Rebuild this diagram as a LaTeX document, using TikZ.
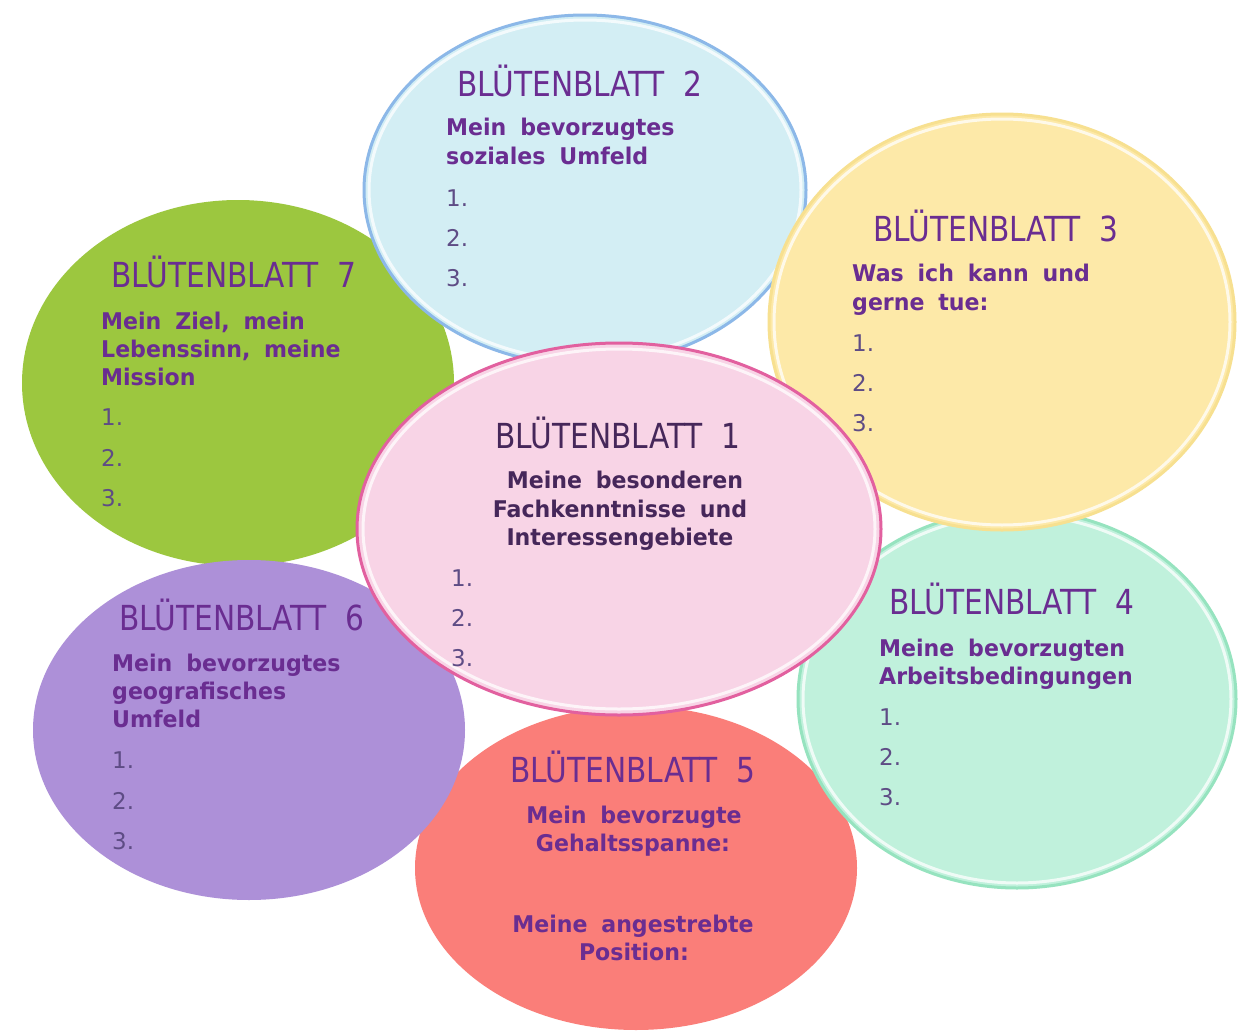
\documentclass[tikz,border=0pt]{standalone}
\usepackage{fontspec}
\setmainfont{DejaVu Sans}
\newfontfamily\titlefont[FakeStretch=0.86,WordSpace=2]{DejaVu Sans}
\newfontfamily\subfont[FakeStretch=0.96,WordSpace=1.8]{DejaVu Sans}
\definecolor{blueF}{HTML}{D3EEF4}
\definecolor{blueD}{HTML}{8CB8E8}
\definecolor{yellowF}{HTML}{FDE9A8}
\definecolor{yellowD}{HTML}{F7E090}
\definecolor{greenF}{HTML}{9CC73F}
\definecolor{pinkF}{HTML}{F8D4E6}
\definecolor{pinkD}{HTML}{E2609F}
\definecolor{mintF}{HTML}{C0F1DC}
\definecolor{mintD}{HTML}{96E3BF}
\definecolor{purpleF}{HTML}{AD90D8}
\definecolor{redF}{HTML}{FA7E79}
\definecolor{titleC}{HTML}{6A2D91}
\definecolor{darkC}{HTML}{46275A}
\definecolor{numC}{HTML}{5E4C85}
\tikzset{
  ttl/.style={inner sep=0pt, text=titleC, font=\titlefont\fontsize{34.5}{38}\selectfont},
  sub/.style={inner sep=0pt, text=titleC, font=\subfont\bfseries\fontsize{23}{26}\selectfont},
  num/.style={inner sep=0pt, text=numC, font=\fontsize{23}{26}\selectfont},
  hilite/.style={draw=white, draw opacity=0.75, line width=3pt, fill=none},
}
\begin{document}
\begin{tikzpicture}[x=1pt,y=-1pt]
\useasboundingbox (0,0) rectangle (1240,1036);
\fill[white] (0,0) rectangle (1240,1036);

% Petal 7 (green)
\fill[greenF] (238,383) ellipse [x radius=216pt, y radius=183pt];
\node[ttl, anchor=base west] (t7) at (111,287) {BLÜTENBLATT 7};
\node[sub, anchor=base west] (s7a) at (101,329) {Mein Ziel, mein};
\node[sub, anchor=base west] (s7b) at (101,357) {Lebenssinn, meine};
\node[sub, anchor=base west] (s7c) at (101,385) {Mission};
\node[num, anchor=base west] (n7a) at (101,425) {1.};
\node[num, anchor=base west] (n7b) at (101,466) {2.};
\node[num, anchor=base west] (n7c) at (101,506) {3.};

% Petal 5 (red)
\fill[redF] (636,868) ellipse [x radius=221pt, y radius=162pt];
\node[ttl, anchor=base] (t5) at (633,782) {BLÜTENBLATT 5};
\node[sub, anchor=base] (s5a) at (634,823) {Mein bevorzugte};
\node[sub, anchor=base] (s5b) at (633,851) {Gehaltsspanne:};
\node[sub, anchor=base] (s5c) at (633,932) {Meine angestrebte};
\node[sub, anchor=base] (s5d) at (634,960) {Position:};

% Petal 6 (purple)
\fill[purpleF] (249,730) ellipse [x radius=216pt, y radius=170pt];
\node[ttl, anchor=base west] (t6) at (119,630) {BLÜTENBLATT 6};
\node[sub, anchor=base west] (s6a) at (112,671) {Mein bevorzugtes};
\node[sub, anchor=base west] (s6b) at (112,699) {geografisches};
\node[sub, anchor=base west] (s6c) at (112,727) {Umfeld};
\node[num, anchor=base west] (n6a) at (112,768) {1.};
\node[num, anchor=base west] (n6b) at (112,809) {2.};
\node[num, anchor=base west] (n6c) at (112,849) {3.};

% Petal 2 (blue)
\filldraw[fill=blueF, draw=blueD, line width=3pt] (585,190) ellipse [x radius=221pt, y radius=175pt];
\draw[hilite] (585,190) ellipse [x radius=216pt, y radius=170pt];
\node[ttl, anchor=base west] (t2) at (457,96) {BLÜTENBLATT 2};
\node[sub, anchor=base west] (s2a) at (446,135) {Mein bevorzugtes};
\node[sub, anchor=base west] (s2b) at (446,164) {soziales Umfeld};
\node[num, anchor=base west] (n2a) at (446,206) {1.};
\node[num, anchor=base west] (n2b) at (446,246) {2.};
\node[num, anchor=base west] (n2c) at (446,286) {3.};

% Petal 4 (mint)
\filldraw[fill=mintF, draw=mintD, line width=3pt] (1017,699) ellipse [x radius=219pt, y radius=189pt];
\draw[hilite] (1017,699) ellipse [x radius=214pt, y radius=184pt];
\node[ttl, anchor=base west] (t4) at (889,614) {BLÜTENBLATT 4};
\node[sub, anchor=base west] (s4a) at (879,656) {Meine bevorzugten};
\node[sub, anchor=base west] (s4b) at (879,684) {Arbeitsbedingungen};
\node[num, anchor=base west] (n4a) at (879,725) {1.};
\node[num, anchor=base west] (n4b) at (879,765) {2.};
\node[num, anchor=base west] (n4c) at (879,805) {3.};

% Petal 3 (yellow)
\filldraw[fill=yellowF, draw=yellowD, line width=3pt] (1002,322) ellipse [x radius=233pt, y radius=208pt];
\draw[hilite] (1002,322) ellipse [x radius=228pt, y radius=203pt];
\node[ttl, anchor=base west] (t3) at (873,241) {BLÜTENBLATT 3};
\node[sub, anchor=base west] (s3a) at (852,281) {Was ich kann und};
\node[sub, anchor=base west] (s3b) at (852,310) {gerne tue:};
\node[num, anchor=base west] (n3a) at (852,351) {1.};
\node[num, anchor=base west] (n3b) at (852,391) {2.};
\node[num, anchor=base west] (n3c) at (852,431) {3.};

% Petal 1 (pink)
\filldraw[fill=pinkF, draw=pinkD, line width=3pt] (619,529) ellipse [x radius=262pt, y radius=186pt];
\draw[hilite] (619,529) ellipse [x radius=256pt, y radius=180pt];
\node[ttl, anchor=base, text=darkC] (t1) at (618,448) {BLÜTENBLATT 1};
\node[sub, anchor=base, text=darkC] (s1a) at (625,488) {Meine besonderen};
\node[sub, anchor=base, text=darkC] (s1b) at (620,517) {Fachkenntnisse und};
\node[sub, anchor=base, text=darkC] (s1c) at (620,545) {Interessengebiete};
\node[num, anchor=base west] (n1a) at (451,586) {1.};
\node[num, anchor=base west] (n1b) at (451,626) {2.};
\node[num, anchor=base west] (n1c) at (451,666) {3.};
\end{tikzpicture}
\end{document}
